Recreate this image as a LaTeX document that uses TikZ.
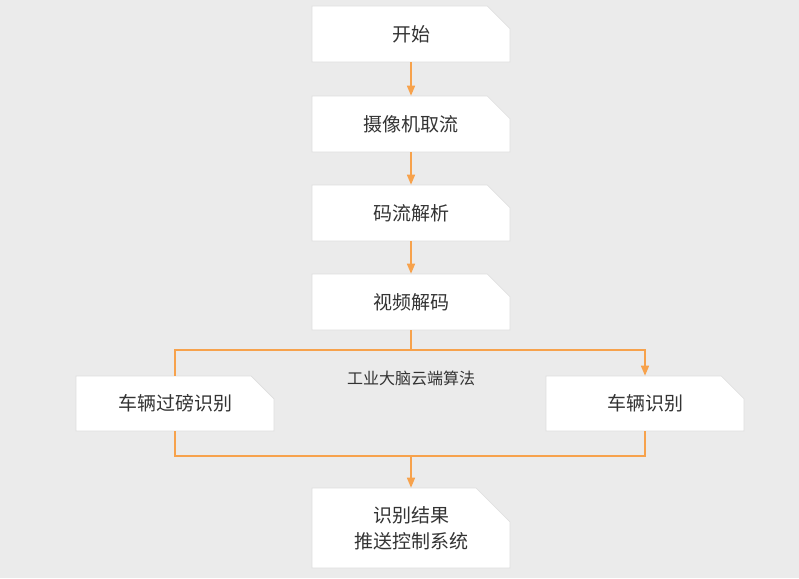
\documentclass[tikz,border=0pt]{standalone}
\usepackage{fontspec}
\setmainfont{Noto Sans CJK SC}
\usepackage{tikz}
\usetikzlibrary{calc,shapes.misc,arrows.meta}
\definecolor{bgray}{RGB}{235,235,235}
\definecolor{flow}{RGB}{247,162,76}
\definecolor{txt}{RGB}{51,51,51}
\definecolor{edge}{RGB}{222,222,222}

\begin{document}
\begin{tikzpicture}[x=1pt, y=-1pt,
	box/.style={chamfered rectangle, chamfered rectangle corners=north east,
		chamfered rectangle xsep=20pt, chamfered rectangle ysep=14pt,
		fill=white, draw=edge, line width=0.6pt, inner sep=0pt,
		minimum width=198pt, minimum height=56pt, align=center,
		text=txt, font=\fontsize{19pt}{26pt}\selectfont},
	flowline/.style={draw=flow, line width=1.5pt},
	flowarrow/.style={flowline, -{Triangle[length=10pt,width=8pt]}, color=flow}]
	
	% background and page size
	\fill[bgray] (0,0) rectangle (799,578);
	
	% main chain of steps
	\node[box] (start)  at (411,34)  {开始};
	\node[box] (pull)   at (411,124) {摄像机取流};
	\node[box] (parse)  at (411,213) {码流解析};
	\node[box] (decode) at (411,302) {视频解码};
	\node[box, minimum height=55pt] (weigh) at (175,403.5) {车辆过磅识别};
	\node[box, minimum height=55pt] (recog) at (645,403.5) {车辆识别};
	\node[box, minimum height=80pt] (push) at (411,528) {识别结果\\推送控制系统};
	
	\foreach \a/\b in {start/pull,pull/parse,parse/decode}
	{
		\draw[flowarrow] (\a.south) -- (\b.north);
	}
	
	% split to the two recognitions
	\coordinate (split) at (411,350);
	\coordinate (join) at (411,456);
	\draw[flowline] (decode.south) -- (split);
	\draw[flowline] (split) -| (weigh.north);
	\draw[flowarrow] (split) -| (recog.north);
	\node[text=txt, font=\fontsize{16pt}{18pt}\selectfont] (cloud) at (411,378) {工业大脑云端算法};
	
	% join the results
	\draw[flowline] (weigh.south) |- (join) -| (recog.south);
	\draw[flowarrow] (join) -- (push.north);
\end{tikzpicture}
\end{document}
